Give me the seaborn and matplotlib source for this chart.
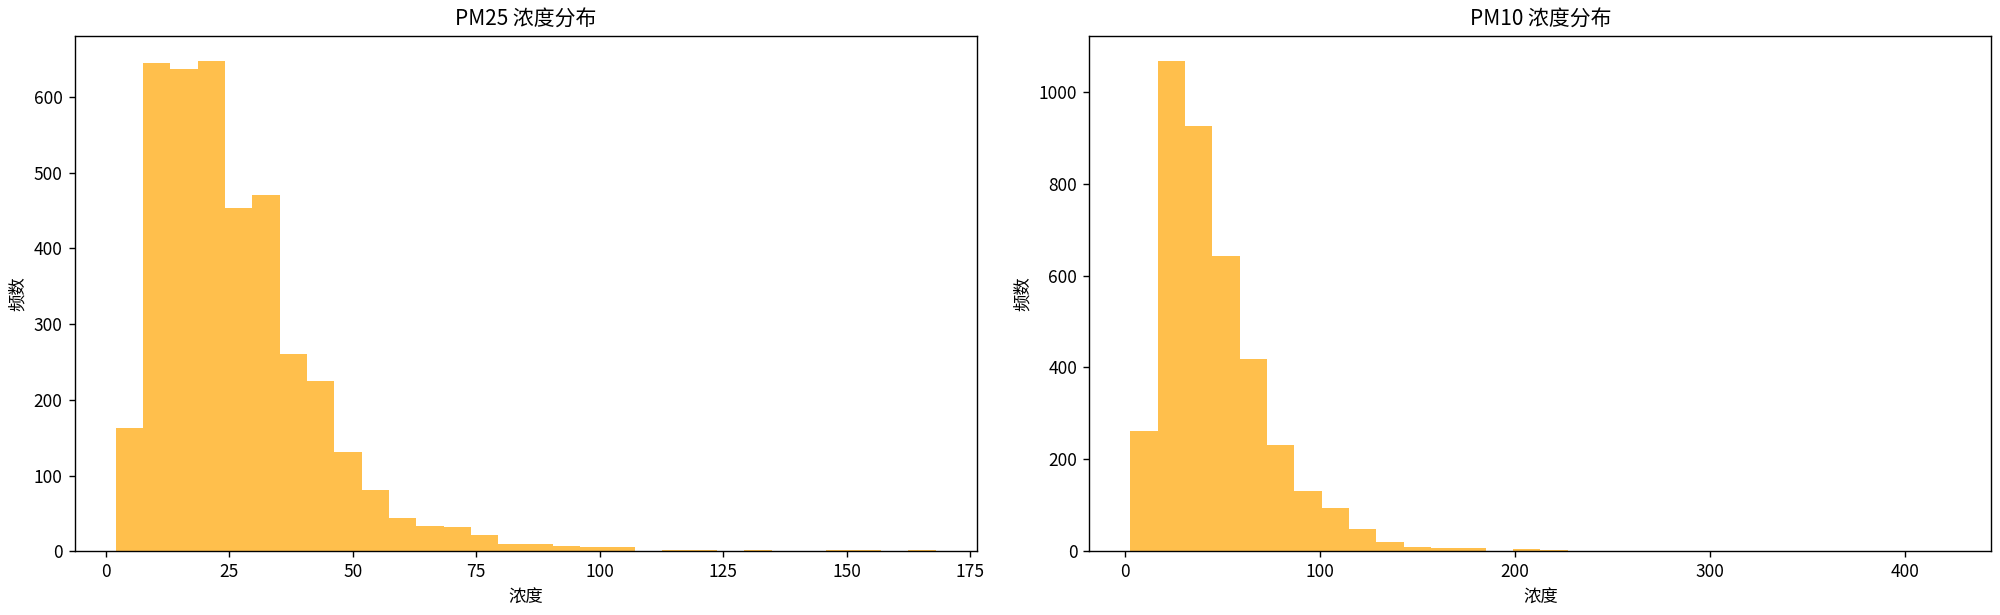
import numpy as np
import pandas as pd
import matplotlib
matplotlib.use("Agg")
import matplotlib.pyplot as plt
import seaborn as sns

plt.rcParams['font.family'] = ['Noto Sans CJK SC', 'DejaVu Sans']
plt.rcParams['axes.unicode_minus'] = False

# PM2.5 histogram: 30 bins over [2.0, 168.0]
pm25_range = (2.0, 168.0)
pm25_counts = [163, 645, 637, 648, 454, 471, 260, 225, 131, 81,
               44, 33, 32, 21, 9, 9, 7, 5, 5, 0,
               2, 1, 0, 1, 0, 0, 1, 1, 0, 1]

# PM10 histogram: 30 bins over [3.0, 423.0]
pm10_range = (3.0, 423.0)
pm10_counts = [262, 1068, 926, 643, 419, 232, 131, 94, 49, 21,
               10, 7, 7, 0, 5, 3, 0, 0, 0, 0,
               0, 0, 0, 0, 0, 0, 0, 0, 0, 1]

titles = ["PM25 浓度分布", "PM10 浓度分布"]
xlabel = "浓度"
ylabel = "频数"

fig, axes = plt.subplots(1, 2, figsize=(16, 4.92), dpi=125)

for ax, rng, counts, title in zip(axes, [pm25_range, pm10_range],
                                  [pm25_counts, pm10_counts], titles):
    n = len(counts)
    edges = np.linspace(rng[0], rng[1], n + 1)
    centers = (edges[:-1] + edges[1:]) / 2
    df = pd.DataFrame({"x": centers, "w": np.asarray(counts, dtype=float)})
    sns.histplot(data=df, x="x", weights="w", bins=n, binrange=rng, ax=ax,
                 color="orange", alpha=0.7, linewidth=0, element="bars")
    ax.set_title(title, fontsize=12)
    ax.set_xlabel(xlabel, fontsize=10)
    ax.set_ylabel(ylabel, fontsize=10)

plt.tight_layout(pad=0.5, w_pad=1.6)
fig.savefig("out.png", dpi=125)
